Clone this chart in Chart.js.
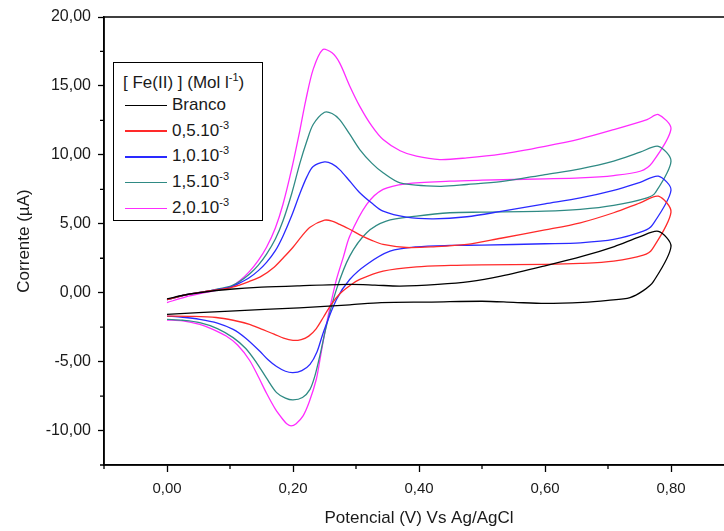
<!DOCTYPE html>
<html>
<head>
    <meta charset="UTF-8">
    <title>Voltametria ciclica - Fe(II)</title>
    <script src="https://cdn.jsdelivr.net/npm/chart.js"></script>
    <style>
        html, body {
            margin: 0;
            padding: 0;
            background: #fff;
            overflow: hidden;
        }

        body {
            position: relative;
            width: 724px;
            height: 531px;
            font-family: "Liberation Sans", Arial, sans-serif;
        }

        #cvChart {
            position: absolute;
            left: 0;
            top: 0;
        }

        #legend {
            position: absolute;
            left: 113px;
            top: 62px;
            width: 150px;
            height: 159px;
            border: 1.5px solid #000;
            box-sizing: border-box;
            background: #fff;
            color: #1a1a1a;
            font-size: 17px;
        }

        #legend .title {
            position: absolute;
            left: 9px;
            top: 9px;
            height: 22px;
            line-height: 22px;
            white-space: nowrap;
        }

        #legend .row {
            position: absolute;
            left: 11px;
            height: 25px;
            line-height: 25px;
            white-space: nowrap;
        }

        #legend .swatch {
            display: inline-block;
            width: 42px;
            height: 1.6px;
            vertical-align: middle;
            margin-right: 5px;
        }

        sup {
            font-size: 11px;
            line-height: 0;
            vertical-align: 7px;
        }
    </style>
</head>
<body>
<canvas id="cvChart" width="760" height="531"></canvas>
<div id="legend"></div>

<script>
    // potencial (V), corrente (uA) - varredura de ida e volta
    const branco = [
        [0, -0.45], [0.03, -0.15], [0.06, 0.05], [0.1, 0.25], [0.15, 0.4], [0.21, 0.5], [0.29, 0.6],
        [0.33, 0.55], [0.37, 0.48], [0.43, 0.6], [0.48, 0.8], [0.53, 1.2], [0.6, 1.95], [0.66, 2.65],
        [0.71, 3.35], [0.75, 4.05], [0.78, 4.45], [0.8, 3.35],
        [0.772, 0.8], [0.756, 0.15], [0.735, -0.35], [0.7, -0.55], [0.66, -0.7], [0.6, -0.78],
        [0.55, -0.7], [0.5, -0.62], [0.42, -0.68], [0.34, -0.72], [0.29, -0.88], [0.21, -1.1],
        [0.1, -1.33], [0, -1.57]
    ];
    const fe05 = [
        [0, -0.5], [0.03, -0.15], [0.06, 0.08], [0.1, 0.35], [0.115, 0.55], [0.13, 0.8], [0.15, 1.2],
        [0.17, 1.85], [0.185, 2.55], [0.2, 3.3], [0.214, 4.1], [0.227, 4.75], [0.25, 5.26], [0.262, 5.2],
        [0.274, 4.95], [0.29, 4.6], [0.306, 4.2], [0.325, 3.8], [0.343, 3.5], [0.38, 3.28],
        [0.423, 3.33], [0.476, 3.5], [0.53, 3.95], [0.6, 4.55], [0.656, 5.07], [0.709, 5.8],
        [0.751, 6.52], [0.78, 7.0], [0.8, 5.84],
        [0.77, 3.14], [0.756, 2.72], [0.709, 2.29], [0.656, 2.12], [0.6, 2.05], [0.5, 2.02],
        [0.45, 1.98], [0.396, 1.88], [0.343, 1.57], [0.306, 0.96], [0.29, 0.5], [0.274, -0.1],
        [0.26, -0.9], [0.248, -1.8], [0.237, -2.6], [0.225, -3.15], [0.213, -3.4], [0.2, -3.46],
        [0.185, -3.3], [0.17, -3.0], [0.15, -2.65], [0.131, -2.3], [0.105, -2.0], [0.078, -1.8],
        [0.04, -1.72], [0, -1.7]
    ];
    const fe10 = [
        [0, -0.5], [0.03, -0.15], [0.06, 0.08], [0.1, 0.4], [0.115, 0.7], [0.131, 1.1], [0.145, 1.6],
        [0.158, 2.2], [0.172, 3.05], [0.184, 4.1], [0.198, 5.6], [0.211, 7.2], [0.222, 8.4],
        [0.232, 9.15], [0.25, 9.49], [0.262, 9.35], [0.274, 8.93], [0.29, 8.1], [0.306, 7.25],
        [0.325, 6.5], [0.343, 5.91], [0.38, 5.48], [0.423, 5.36], [0.476, 5.51], [0.53, 5.9],
        [0.6, 6.45], [0.656, 6.88], [0.709, 7.43], [0.751, 8.01], [0.78, 8.45], [0.8, 7.43],
        [0.77, 4.88], [0.756, 4.46], [0.709, 3.86], [0.656, 3.62], [0.6, 3.55], [0.5, 3.45],
        [0.449, 3.43], [0.396, 3.33], [0.354, 3.01], [0.317, 2.05], [0.29, 0.96], [0.269, -0.49],
        [0.248, -2.9], [0.238, -4.3], [0.227, -5.2], [0.214, -5.65], [0.2, -5.8], [0.188, -5.7],
        [0.174, -5.36], [0.16, -4.85], [0.147, -4.23], [0.125, -3.3], [0.105, -2.66], [0.08, -2.2],
        [0.052, -1.93], [0.025, -1.78], [0, -1.7]
    ];
    const fe15 = [
        [0, -0.5], [0.03, -0.15], [0.06, 0.08], [0.1, 0.45], [0.115, 0.8], [0.131, 1.35], [0.145, 2.0],
        [0.158, 2.8], [0.172, 3.9], [0.184, 5.2], [0.198, 7.2], [0.211, 9.4], [0.222, 11.0],
        [0.232, 12.2], [0.25, 13.09], [0.262, 13.0], [0.274, 12.56], [0.29, 11.5], [0.306, 10.38],
        [0.325, 9.4], [0.343, 8.7], [0.37, 7.97], [0.433, 7.72], [0.476, 7.85], [0.53, 8.05],
        [0.6, 8.57], [0.656, 8.98], [0.709, 9.54], [0.751, 10.19], [0.78, 10.62], [0.8, 9.54],
        [0.775, 7.25], [0.762, 6.88], [0.709, 6.33], [0.656, 6.04], [0.6, 5.91], [0.5, 5.84],
        [0.449, 5.8], [0.396, 5.55], [0.348, 5.19], [0.317, 4.35], [0.29, 2.65], [0.269, 0.24],
        [0.253, -2.42], [0.243, -4.5], [0.235, -6.0], [0.227, -7.01], [0.215, -7.6], [0.2, -7.78],
        [0.188, -7.65], [0.174, -7.25], [0.158, -6.2], [0.142, -5.07], [0.125, -4.05], [0.105, -3.26],
        [0.08, -2.6], [0.052, -2.17], [0.025, -2.0], [0, -1.93]
    ];
    const fe20 = [
        [0, -0.72], [0.03, -0.3], [0.06, 0.0], [0.1, 0.4], [0.115, 0.85], [0.131, 1.55], [0.145, 2.35],
        [0.158, 3.3], [0.172, 4.7], [0.184, 6.4], [0.198, 9.0], [0.211, 11.8], [0.22, 13.9],
        [0.232, 16.2], [0.247, 17.63], [0.262, 17.4], [0.274, 16.67], [0.29, 15.0], [0.306, 13.52],
        [0.325, 12.1], [0.343, 11.11], [0.37, 10.3], [0.396, 9.9], [0.433, 9.66], [0.476, 9.78],
        [0.53, 10.05], [0.6, 10.62], [0.656, 11.16], [0.709, 11.83], [0.762, 12.56], [0.78, 12.92],
        [0.8, 11.88],
        [0.77, 9.42], [0.751, 8.81], [0.709, 8.5], [0.656, 8.33], [0.6, 8.26], [0.5, 8.16],
        [0.449, 8.09], [0.38, 7.9], [0.343, 7.49], [0.317, 6.4], [0.29, 4.1], [0.28, 2.6],
        [0.269, 0.96], [0.258, -1.21], [0.25, -3.0], [0.243, -4.8], [0.237, -6.28], [0.226, -7.9],
        [0.216, -8.94], [0.205, -9.5], [0.197, -9.66], [0.19, -9.5], [0.184, -9.2], [0.172, -8.45],
        [0.158, -7.3], [0.145, -6.1], [0.131, -4.9], [0.112, -3.8], [0.094, -3.14], [0.07, -2.6],
        [0.052, -2.3], [0.025, -2.05], [0, -1.98]
    ];

    const seriesData = [branco, fe05, fe10, fe15, fe20];
    const seriesLabels = ['Branco', '0,5.10', '1,0.10', '1,5.10', '2,0.10'];
    const seriesExp = ['', '-3', '-3', '-3', '-3'];
    const seriesColors = ['#000000', '#ff2a2a', '#2a2aff', '#2f8a84', '#ff2cff'];

    const xMajor = [0, 0.2, 0.4, 0.6, 0.8];
    const xMinor = [-0.1, 0.1, 0.3, 0.5, 0.7, 0.9];
    const yMajor = [-10, -5, 0, 5, 10, 15, 20];
    const yMinor = [-12.5, -7.5, -2.5, 2.5, 7.5, 12.5, 17.5];

    const fmt = v => v.toFixed(2).replace('.', ',');
    const family = '"Liberation Sans", Arial, sans-serif';

    // legenda
    const legend = document.getElementById('legend');
    let html = '<div class="title">[ Fe(II) ] (Mol l<sup>-1</sup>)</div>';
    seriesLabels.forEach((name, i) => {
        const top = 29 + i * 25.7;
        const exp = seriesExp[i] ? '<sup>' + seriesExp[i] + '</sup>' : '';
        html += '<div class="row" style="top:' + top + 'px"><span class="swatch" style="background:' +
            seriesColors[i] + '"></span>' + name + exp + '</div>';
    });
    legend.innerHTML = html;

    // moldura e marcas secundarias
    const frameTicks = {
        id: 'frameTicks',
        afterDraw(chart) {
            const {ctx, chartArea: a, scales: {x, y}} = chart;
            ctx.save();
            ctx.strokeStyle = '#000';
            ctx.lineWidth = 1.5;
            ctx.strokeRect(a.left, a.top, a.right - a.left, a.bottom - a.top);
            ctx.lineWidth = 1.3;
            ctx.beginPath();
            xMinor.forEach(v => {
                const p = x.getPixelForValue(v);
                ctx.moveTo(p, a.bottom);
                ctx.lineTo(p, a.bottom + 4);
            });
            yMinor.forEach(v => {
                const p = y.getPixelForValue(v);
                ctx.moveTo(a.left, p);
                ctx.lineTo(a.left - 4, p);
            });
            ctx.stroke();
            ctx.restore();
        }
    };

    const ctx = document.getElementById('cvChart').getContext('2d');
    new Chart(ctx, {
        type: 'scatter',
        data: {
            datasets: seriesData.map((s, i) => ({
                label: seriesLabels[i],
                data: s.map(p => ({x: p[0], y: p[1]})),
                showLine: true,
                borderColor: seriesColors[i],
                backgroundColor: seriesColors[i],
                borderWidth: 1.3,
                pointRadius: 0,
                tension: 0.3,
                fill: false
            }))
        },
        options: {
            responsive: false,
            animation: false,
            layout: {padding: {top: 17, right: 26, left: 0, bottom: 0}},
            plugins: {
                legend: {display: false},
                tooltip: {enabled: false}
            },
            scales: {
                x: {
                    type: 'linear',
                    min: -0.1,
                    max: 0.9,
                    afterBuildTicks: s => { s.ticks = xMajor.map(v => ({value: v})); },
                    afterFit: s => { s.height = 66; },
                    ticks: {
                        callback: v => fmt(v),
                        font: {size: 15, family: family},
                        color: '#1a1a1a',
                        padding: 8,
                        maxRotation: 0,
                        autoSkip: false
                    },
                    grid: {drawOnChartArea: false, tickLength: 7, tickColor: '#000', tickWidth: 1.3},
                    border: {display: true, color: '#000', width: 1.5},
                    title: {
                        display: true,
                        text: 'Potencial (V) Vs Ag/AgCl',
                        font: {size: 17, family: family},
                        color: '#1a1a1a',
                        padding: {top: 0, bottom: 2}
                    }
                },
                y: {
                    type: 'linear',
                    min: -12.5,
                    max: 20,
                    afterBuildTicks: s => { s.ticks = yMajor.map(v => ({value: v})); },
                    afterFit: s => { s.width = 104; },
                    ticks: {
                        callback: v => fmt(v),
                        font: {size: 16, family: family},
                        color: '#1a1a1a',
                        padding: 7
                    },
                    grid: {drawOnChartArea: false, tickLength: 6, tickColor: '#000', tickWidth: 1.3},
                    border: {display: true, color: '#000', width: 1.5},
                    title: {
                        display: true,
                        text: 'Corrente (µA)',
                        font: {size: 17, family: family},
                        color: '#1a1a1a',
                        padding: {top: 14, bottom: 0}
                    }
                }
            }
        },
        plugins: [frameTicks]
    });
</script>
</body>
</html>
